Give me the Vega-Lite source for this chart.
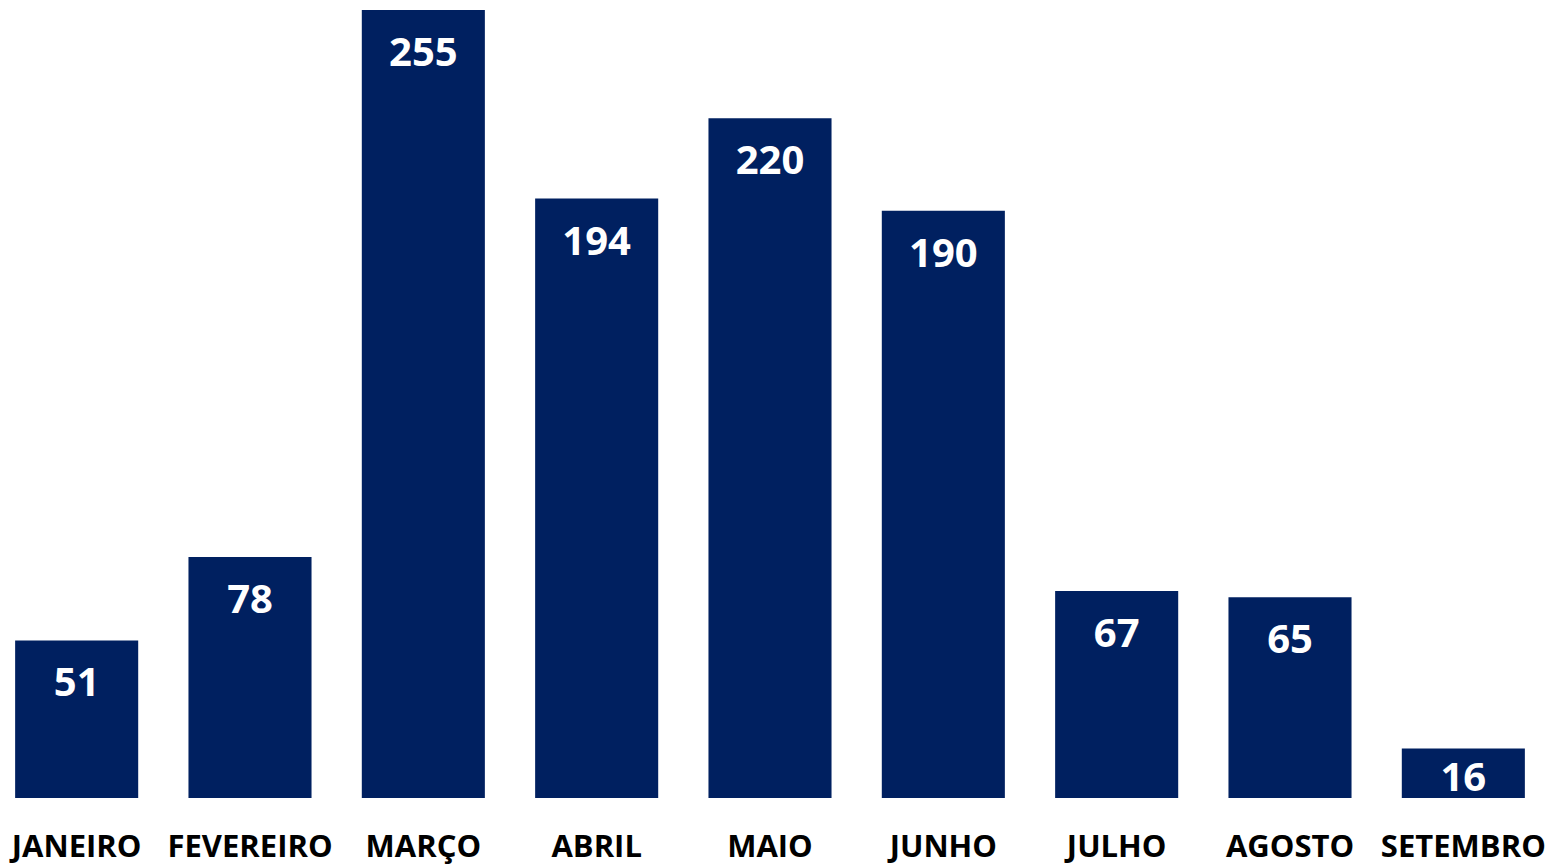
{
  "$schema": "https://vega.github.io/schema/vega-lite/v6.json",
  "width": 1561,
  "height": 788,
  "autosize": "none",
  "padding": {"left": 0, "top": 10, "right": 0, "bottom": 67},
  "background": "white",
  "data": {"values": [
    {"mes": "JANEIRO", "v": 51},
    {"mes": "FEVEREIRO", "v": 78},
    {"mes": "MARÇO", "v": 255},
    {"mes": "ABRIL", "v": 194},
    {"mes": "MAIO", "v": 220},
    {"mes": "JUNHO", "v": 190},
    {"mes": "JULHO", "v": 67},
    {"mes": "AGOSTO", "v": 65},
    {"mes": "SETEMBRO", "v": 16}
  ]},
  "encoding": {
    "x": {
      "field": "mes", "type": "nominal", "sort": null,
      "scale": {"range": [-10, 1550], "paddingInner": 0.29, "paddingOuter": 0.145},
      "axis": {
        "title": null, "domain": false, "ticks": false, "labelAngle": 0,
        "labelFont": "Open Sans", "labelFontWeight": "bold", "labelFontSize": 31,
        "labelColor": "#000000", "labelBaseline": "alphabetic", "labelPadding": 58,
        "labelOverlap": false, "labelLimit": 0
      }
    },
    "y": {
      "field": "v", "type": "quantitative",
      "scale": {"domain": [0, 255], "nice": false, "zero": true},
      "axis": null
    },
    "text": {"field": "v", "type": "quantitative"}
  },
  "layer": [
    {"mark": {"type": "bar", "color": "#002060"}},
    {
      "transform": [{"filter": "datum.v >= 30"}],
      "mark": {"type": "text", "color": "white", "font": "Open Sans", "fontWeight": "bold", "fontSize": 40, "baseline": "alphabetic", "align": "center", "dy": 56}
    },
    {
      "transform": [{"filter": "datum.v < 30"}],
      "mark": {"type": "text", "color": "white", "font": "Open Sans", "fontWeight": "bold", "fontSize": 40, "baseline": "alphabetic", "align": "center", "dy": 42}
    }
  ],
  "config": {"view": {"stroke": null}}
}
